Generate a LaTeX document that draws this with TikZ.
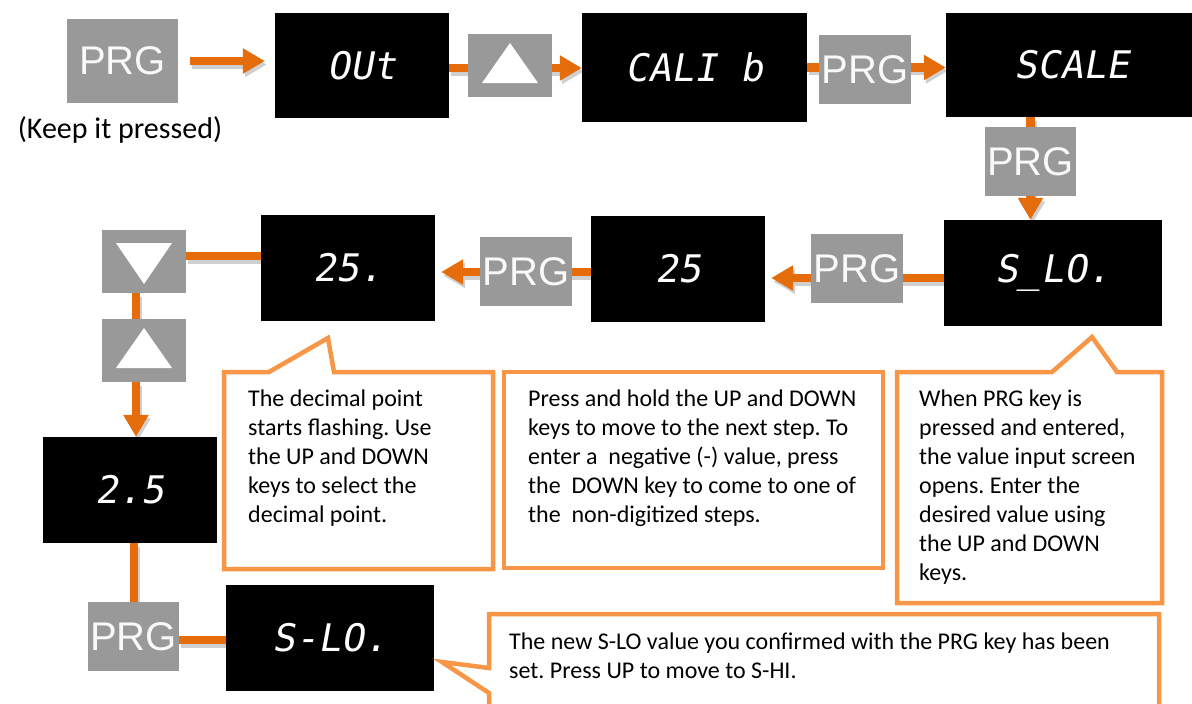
\documentclass[tikz,border=0pt]{standalone}
\usepackage{fontspec}
\setmainfont{Carlito}
\newfontfamily\segfont{DejaVu Sans Mono}[FakeSlant=0.18]
\newfontfamily\keyfont{Liberation Sans}
\usetikzlibrary{arrows.meta}
\definecolor{conn}{HTML}{E46C0A}
\definecolor{callout}{HTML}{F79646}
\definecolor{keygray}{HTML}{999999}
\definecolor{shadowgray}{HTML}{CFCFCF}
\pgfdeclarelayer{bg}
\pgfsetlayers{bg,main}
\frenchspacing
\begin{document}
\begin{tikzpicture}[x=1pt,y=-1pt,
  display/.style={fill=black, inner sep=0, minimum width=174pt, minimum height=106pt, text=white, font=\segfont\fontsize{38}{40}\selectfont},
  prgkey/.style={fill=keygray, inner sep=0, minimum width=92pt, minimum height=69pt, text=white!95!gray, font=\keyfont\fontsize{40}{40}\selectfont},
  upkey/.style={fill=keygray, inner sep=0, minimum width=84pt, minimum height=63pt,
    path picture={\fill[white] ([yshift=22.5pt]path picture bounding box.center) -- ++(-28,40) -- ++(56,0) -- cycle;}},
  downkey/.style={fill=keygray, inner sep=0, minimum width=84pt, minimum height=63pt,
    path picture={\fill[white] ([yshift=-22.5pt]path picture bounding box.center) -- ++(-28,-41) -- ++(56,0) -- cycle;}},
  link/.style={draw=conn, line width=8.5pt,
    preaction={draw=shadowgray, line width=8.5pt, transform canvas={shift={(2pt,-3.5pt)}}}},
  arr/.style={link, -{Triangle[length=22pt,width=24pt]}},
  cbox/.style={draw=callout, line width=4.5pt, fill=white, line join=miter},
  ctext/.style={font=\fontsize{24}{29}\selectfont, align=left, anchor=north west, inner sep=0}
]
\useasboundingbox (0,0) rectangle (1192,704);

% keys and displays
\node[prgkey, minimum width=111pt, minimum height=84pt] (prg1) at (122.5,61) {PRG};
\node[font=\fontsize{30}{34}\selectfont] (keep) at (120,130) {(Keep it pressed)};
\node[display, minimum height=105pt] (out) at (362,65.5) {OUt};
\node[upkey] (up1) at (510,65.5) {};
\node[display, minimum width=225pt, minimum height=109pt] (calib) at (694.5,67.5) {CALI b};
\node[prgkey] (prg2) at (865,69.5) {PRG};
\node[display, minimum width=252pt, minimum height=104pt] (scale) at (1072,65) {SCALE};
\node[prgkey, minimum width=91pt] (prg3) at (1030.5,161.5) {PRG};
\node[display, minimum width=218pt] (slo) at (1053,273) {S\_LO.};
\node[prgkey] (prg4) at (857,268.5) {PRG};
\node[display] (v25) at (678,269) {25};
\node[prgkey] (prg5) at (526,271.5) {PRG};
\node[display] (v25d) at (348,268) {25.};
\node[downkey] (down) at (144,261.5) {};
\node[upkey] (up2) at (144,350.5) {};
\node[display] (v2p5) at (130,490) {2.5};
\node[prgkey, minimum width=91pt] (prg6) at (133.5,636.5) {PRG};
\node[display, minimum width=208pt] (slo2) at (330,638) {S-LO.};

% connectors
\begin{pgfonlayer}{bg}
\draw[arr, shorten <=12pt, shorten >=10pt] (prg1.east) -- (prg1.east -| out.west);
\draw[arr] ([yshift=-2.5pt]out.east) -- ([yshift=-2.5pt]out.east -| calib.west);
\draw[arr] (calib.east) -- (calib.east -| scale.west);
\draw[arr] (prg3.north |- scale.south) -- (prg3.south |- slo.north);
\draw[arr, shorten >=6pt] ([yshift=-5pt]slo.west) -- ([yshift=-5pt]slo.west -| v25.east);
\draw[arr, shorten >=6pt] ([yshift=-3pt]v25.west) -- ([yshift=-3pt]v25.west -| v25d.east);
\draw[link] ([yshift=12pt]v25d.west) -- ([yshift=12pt]v25d.west -| down.east);
\draw[link] ([xshift=-8pt]down.south) -- ([xshift=-8pt]up2.north);
\draw[arr] ([xshift=-8pt]up2.south) -- ([xshift=-8pt]up2.south |- v2p5.north);
\draw[link] ([xshift=4pt]v2p5.south) -- ([xshift=4pt]v2p5.south |- prg6.north);
\draw[link] ([yshift=-3.5pt]prg6.east) -- ([yshift=-3.5pt]prg6.east -| slo2.west);
\end{pgfonlayer}

% callouts
\draw[cbox] (224,372) -- (269,372) -- (328,338) -- (334,372) -- (493,372) -- (493,569) -- (224,569) -- cycle;
\draw[cbox] (504,372) rectangle (883,568);
\draw[cbox] (897,372) -- (1052,372) -- (1092,337) -- (1117,372) -- (1162,372) -- (1162,603) -- (897,603) -- cycle;
\draw[cbox] (489,614) -- (1159,614) -- (1159,730) -- (489,730) -- (489,693) -- (442,662) -- (489,668) -- cycle;

\node[ctext] (t1) at (248,390) {The decimal point\\starts flashing. Use\\the UP and DOWN\\keys to select the\\decimal point.};
\node[ctext] (t2) at (528,390) {Press and hold the UP and DOWN\\keys to move to the next step. To\\enter a\ \ negative (-) value, press\\the\ \ DOWN key to come to one of\\the\ \ non-digitized steps.};
\node[ctext] (t3) at (919,390) {When PRG key is\\pressed and entered,\\the value input screen\\opens. Enter the\\desired value using\\the UP and DOWN\\keys.};
\node[ctext] (t4) at (509,633) {The new S-LO value you confirmed with the PRG key has been\\set. Press UP to move to S-HI.};
\end{tikzpicture}
\end{document}
